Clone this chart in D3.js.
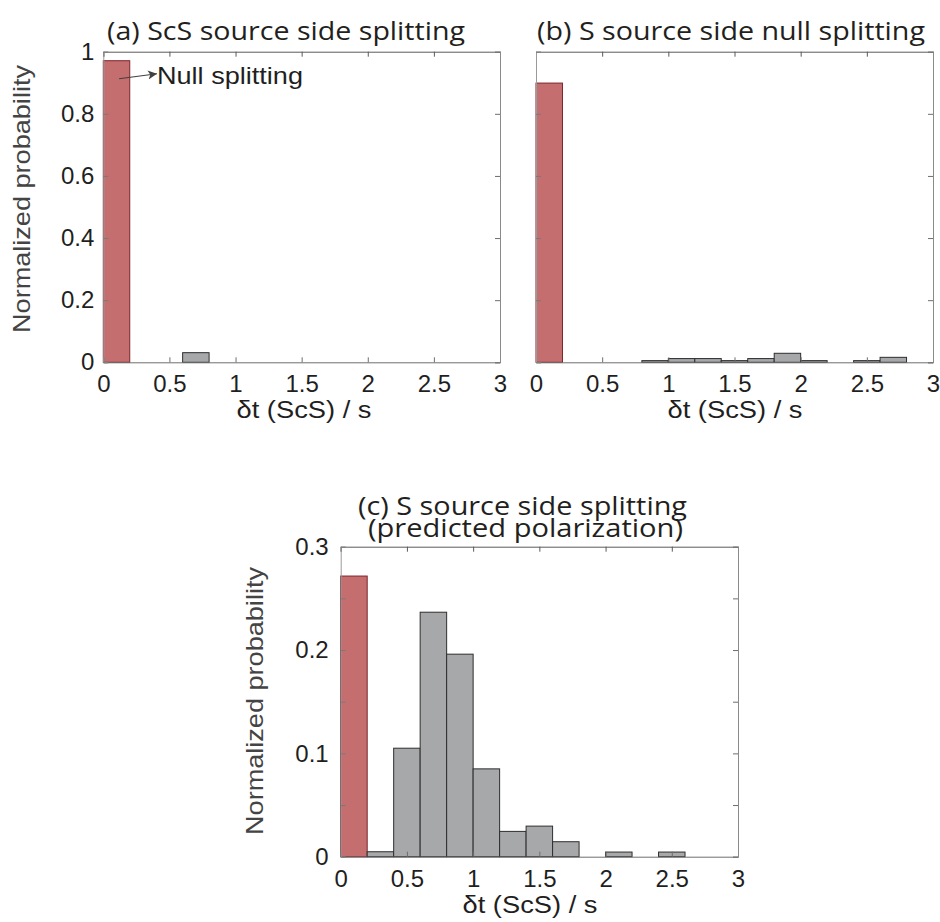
<!DOCTYPE html>
<html>
<head>
<meta charset="utf-8">
<script src="https://cdn.jsdelivr.net/npm/d3@7"></script>
<style>
  body { margin: 0; background: #fff; }
  text { font-family: "Liberation Sans", Arial, Helvetica, sans-serif; }
  .title { font-family: "Open Sans", "Noto Sans", sans-serif; fill: #231f20; }
</style>
</head>
<body>
<svg></svg>
<script>
const w = 940;
const h = 922;

// histogram bins (s) and normalized probabilities
const binStarts = [0, 0.2, 0.4, 0.6, 0.8, 1.0, 1.2, 1.4, 1.6, 1.8, 2.0, 2.2, 2.4, 2.6, 2.8];
const binWidth = 0.2;
const scsSourceSplit = [0.971, 0, 0, 0.031, 0, 0, 0, 0, 0, 0, 0, 0, 0, 0, 0];
const sSourceNull = [0.899, 0, 0, 0, 0.0054, 0.012, 0.012, 0.0054, 0.012, 0.029, 0.0054, 0, 0.0054, 0.016, 0];
const sSourcePredicted = [0.2716, 0.0048, 0.105, 0.2366, 0.196, 0.085, 0.0245, 0.0296, 0.0145, 0, 0.0045, 0, 0.0045, 0, 0];

const xTicks = [0, 0.5, 1, 1.5, 2, 2.5, 3];
const yTicksAB = [0, 0.2, 0.4, 0.6, 0.8, 1];
const yTicksC = [0, 0.05, 0.1, 0.15, 0.2, 0.25, 0.3];
const yLabelsC = [0, 0.1, 0.2, 0.3];

const svg = d3.select("svg")
    .attr("width", w)
    .attr("height", h)
    .attr("viewBox", [0, 0, w, h]);

svg.append("rect").attr("width", w).attr("height", h).attr("fill", "white");

const defs = svg.append("defs");
defs.append("marker")
    .attr("id", "arrowhead")
    .attr("viewBox", "0 0 10 10")
    .attr("refX", 10).attr("refY", 5)
    .attr("markerWidth", 15).attr("markerHeight", 9)
    .attr("markerUnits", "userSpaceOnUse")
    .attr("orient", "auto")
    .append("path")
    .attr("d", "M0,0 L10,5 L0,10 L2.5,5 Z")
    .attr("fill", "#404040");

const panels = [
    {
        values: scsSourceSplit, left: 103.3, right: 500, top: 51.7, bottom: 362.3,
        ymax: 1, yTicks: yTicksAB, yLabels: yTicksAB, labelPad: 9,
        title: [{ t: "(a) ScS source side splitting", len: 358 }], titleX: 286, titleY: 40,
        ylab: { x: 30, y: 199 }, xlab: { x: 304, y: 418 }
    },
    {
        values: sSourceNull, left: 536, right: 933, top: 51.7, bottom: 362.3,
        ymax: 1, yTicks: yTicksAB, yLabels: [], labelPad: 9,
        title: [{ t: "(b) S source side null splitting", len: 388 }], titleX: 731, titleY: 40,
        ylab: null, xlab: { x: 735, y: 418 }
    },
    {
        values: sSourcePredicted, left: 340.7, right: 738, top: 546.7, bottom: 856.7,
        ymax: 0.3, yTicks: yTicksC, yLabels: yLabelsC, labelPad: 12,
        title: [
            { t: "(c) S source side splitting", len: 329 },
            { t: "(predicted polarization)", len: 315, dx: 3 }
        ], titleX: 522.5, titleY: 515,
        ylab: { x: 263, y: 701 }, xlab: { x: 530, y: 913 }
    }
];

panels.forEach((p, pi) => {
    const x = d3.scaleLinear().domain([0, 3]).range([p.left, p.right]);
    const y = d3.scaleLinear().domain([0, p.ymax]).range([p.bottom, p.top]);
    const g = svg.append("g");

    // bars
    const bins = binStarts.map((b, i) => ({ x0: b, x1: b + binWidth, v: p.values[i], i }));
    g.selectAll("rect.bar")
        .data(bins.filter(d => d.v > 0))
        .join("rect")
        .attr("class", "bar")
        .attr("x", d => x(d.x0))
        .attr("width", d => x(d.x1) - x(d.x0))
        .attr("y", d => y(d.v))
        .attr("height", d => y(0) - y(d.v))
        .attr("fill", d => d.i === 0 ? "#c46e70" : "#a7a8aa")
        .attr("stroke", d => d.i === 0 ? "#7e2428" : "#2e2e2e")
        .attr("stroke-width", 1);

    // bottom axis with inward ticks
    const xAxis = g.append("g")
        .attr("transform", `translate(0,${p.bottom})`)
        .call(d3.axisBottom(x).tickValues(xTicks).tickFormat(d => d).tickSize(-5).tickPadding(13));
    xAxis.select(".domain").attr("stroke", "#6e6e6e");
    xAxis.selectAll(".tick line").attr("stroke", "#6e6e6e");
    xAxis.selectAll("text").attr("font-size", 24).attr("fill", "#1f1f1f")
        .attr("font-family", "Liberation Sans, Arial, sans-serif");

    // top axis (box) ticks
    const xTop = g.append("g")
        .attr("transform", `translate(0,${p.top})`)
        .call(d3.axisTop(x).tickValues(xTicks).tickFormat("").tickSize(-5));
    xTop.select(".domain").attr("stroke", "#5a5a5a");
    xTop.selectAll(".tick line").attr("stroke", "#5a5a5a");

    // left axis
    const yAxis = g.append("g")
        .attr("transform", `translate(${p.left},0)`)
        .call(d3.axisLeft(y).tickValues(p.yTicks)
            .tickFormat(d => p.yLabels.some(v => Math.abs(v - d) < 1e-9) ? d3.format("~g")(d) : "")
            .tickSize(-5).tickPadding(p.labelPad));
    yAxis.select(".domain").attr("stroke", "#9a9a9a");
    yAxis.selectAll(".tick line").attr("stroke", "#7a7a7a");
    yAxis.selectAll("text").attr("font-size", 24).attr("fill", "#1f1f1f")
        .attr("font-family", "Liberation Sans, Arial, sans-serif");

    // right axis (box) ticks
    const yRight = g.append("g")
        .attr("transform", `translate(${p.right},0)`)
        .call(d3.axisRight(y).tickValues(p.yTicks).tickFormat("").tickSize(-5));
    yRight.select(".domain").attr("stroke", "#8a8a8a");
    yRight.selectAll(".tick line").attr("stroke", "#6e6e6e");

    // title (one text element, tight line spacing like the original)
    const title = g.append("text")
        .attr("class", "title")
        .attr("text-anchor", "middle")
        .attr("font-size", 26);
    p.title.forEach((t, k) => {
        title.append("tspan")
            .attr("x", p.titleX + (t.dx || 0))
            .attr("y", p.titleY + k * 22)
            .attr("textLength", t.len)
            .attr("lengthAdjust", "spacingAndGlyphs")
            .text(t.t);
    });

    // axis labels
    g.append("text")
        .attr("x", p.xlab.x)
        .attr("y", p.xlab.y)
        .attr("text-anchor", "middle")
        .attr("font-size", 23)
        .attr("textLength", 135)
        .attr("lengthAdjust", "spacingAndGlyphs")
        .attr("fill", "#1f1f1f")
        .text("δt (ScS) / s");

    if (p.ylab) {
        g.append("text")
            .attr("transform", `translate(${p.ylab.x},${p.ylab.y}) rotate(-90)`)
            .attr("text-anchor", "middle")
            .attr("font-size", 24)
            .attr("textLength", 268)
            .attr("lengthAdjust", "spacingAndGlyphs")
            .attr("fill", "#444")
            .text("Normalized probability");
    }

    // annotation in panel (a)
    if (pi === 0) {
        g.append("line")
            .attr("x1", x(0.119)).attr("y1", y(0.913))
            .attr("x2", x(0.406)).attr("y2", y(0.929))
            .attr("stroke", "#404040")
            .attr("stroke-width", 1.2)
            .attr("marker-end", "url(#arrowhead)");

        g.append("text")
            .attr("x", x(0.406))
            .attr("y", 84)
            .attr("font-size", 24)
            .attr("textLength", 146)
            .attr("lengthAdjust", "spacingAndGlyphs")
            .attr("fill", "#1f1f1f")
            .text("Null splitting");
    }
});
</script>
</body>
</html>
